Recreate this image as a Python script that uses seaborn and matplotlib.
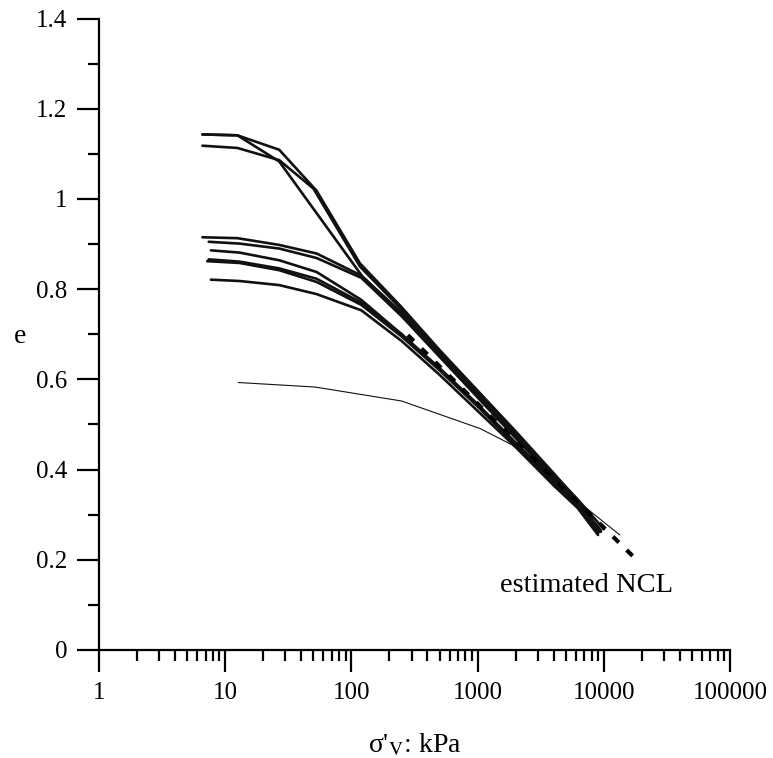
import numpy as np
import pandas as pd
import matplotlib
matplotlib.use("Agg")
import matplotlib.pyplot as plt
import seaborn as sns
from matplotlib.ticker import FixedLocator, NullFormatter

sns.set_theme(style="ticks")
plt.rcParams['font.family'] = ['Liberation Serif', 'DejaVu Serif']
plt.rcParams['mathtext.fontset'] = 'stix'

# ---- data: compression curves (vertical effective stress kPa, void ratio e)
stress_A = [6.6, 12.5, 26.8, 53, 117, 250, 500, 1000, 2000, 4000, 6200, 9500]
e_A = [1.143, 1.141, 1.109, 1.018, 0.857, 0.760, 0.665, 0.575, 0.485, 0.392, 0.332, 0.262]

stress_B = [6.6, 12.5, 26.8, 123, 250, 500, 1000, 2000, 4000, 6200, 9000]
e_B = [1.143, 1.141, 1.083, 0.827, 0.748, 0.657, 0.566, 0.476, 0.386, 0.326, 0.258]

stress_C = [6.6, 12.5, 26.8, 50, 117, 250, 500, 1000, 2000, 4000, 6200, 10000]
e_C = [1.118, 1.113, 1.086, 1.023, 0.850, 0.755, 0.660, 0.570, 0.480, 0.390, 0.334, 0.268]

stress_L1 = [6.6, 12.5, 26.8, 53, 120, 250, 500, 1000, 2000, 4000, 6200, 9000]
e_L1 = [0.915, 0.913, 0.898, 0.879, 0.830, 0.745, 0.655, 0.565, 0.475, 0.385, 0.330, 0.270]

stress_L2 = [7.4, 13, 26.8, 53, 120, 250, 500, 1000, 2000, 4000, 6200, 9500]
e_L2 = [0.905, 0.901, 0.890, 0.869, 0.825, 0.740, 0.650, 0.560, 0.470, 0.380, 0.325, 0.265]

stress_L3 = [7.7, 13, 26.8, 53, 120, 250, 500, 1000, 2000, 4000, 6200, 9000]
e_L3 = [0.886, 0.881, 0.864, 0.838, 0.776, 0.700, 0.625, 0.545, 0.460, 0.375, 0.320, 0.260]

stress_L4 = [7.2, 13, 26.8, 53, 120, 250, 500, 1000, 2000, 4000, 6200, 8800]
e_L4 = [0.862, 0.858, 0.842, 0.816, 0.765, 0.695, 0.620, 0.540, 0.455, 0.370, 0.318, 0.265]

stress_L5 = [7.4, 13, 26.8, 53, 120, 250, 500, 1000, 2000, 4000, 6200, 9200]
e_L5 = [0.866, 0.861, 0.846, 0.823, 0.770, 0.700, 0.622, 0.543, 0.458, 0.372, 0.320, 0.262]

stress_L6 = [7.7, 13, 26.8, 53, 120, 250, 500, 1000, 2000, 4000, 6200, 9000]
e_L6 = [0.821, 0.818, 0.809, 0.789, 0.753, 0.685, 0.610, 0.530, 0.450, 0.365, 0.315, 0.255]

stress_thin = [12.7, 51.5, 250, 1045, 1900, 4000, 6200, 13400]
e_thin = [0.593, 0.583, 0.552, 0.491, 0.454, 0.375, 0.330, 0.255]

stress_ncl = [280, 17000]
e_ncl = [0.698, 0.208]
ncl_label = "estimated NCL"

x_ticks = [1, 10, 100, 1000, 10000, 100000]
x_ticklabels = ["1", "10", "100", "1000", "10000", "100000"]
y_ticks = [0, 0.2, 0.4, 0.6, 0.8, 1.0, 1.2, 1.4]
y_ticklabels = ["0", "0.2", "0.4", "0.6", "0.8", "1", "1.2", "1.4"]

curves = {
    "A": (stress_A, e_A), "B": (stress_B, e_B), "C": (stress_C, e_C),
    "L1": (stress_L1, e_L1), "L2": (stress_L2, e_L2), "L3": (stress_L3, e_L3),
    "L4": (stress_L4, e_L4), "L5": (stress_L5, e_L5), "L6": (stress_L6, e_L6),
}
rows = []
for name, (s, e) in curves.items():
    for si, ei in zip(s, e):
        rows.append({"sigma": si, "e": ei, "test": name})
df = pd.DataFrame(rows)
df_thin = pd.DataFrame({"sigma": stress_thin, "e": e_thin, "test": "thin"})
df_ncl = pd.DataFrame({"sigma": stress_ncl, "e": e_ncl})

fig = plt.figure(figsize=(7.73, 7.58), dpi=100)
ax = fig.add_axes([99 / 773, 108 / 758, 631 / 773, 631.5 / 758])

sns.lineplot(data=df, x="sigma", y="e", units="test", estimator=None, sort=False,
             color="#111111", lw=1.9, ax=ax)
sns.lineplot(data=df_thin, x="sigma", y="e", estimator=None, sort=False,
             color="#111111", lw=0.8, ax=ax)
sns.lineplot(data=df_ncl, x="sigma", y="e", estimator=None, sort=False,
             color="black", lw=3.0, ax=ax, dashes=False)
ax.lines[-1].set_linestyle((0, (2.0, 2.6)))

ax.set_xscale("log")
ax.set_xlim(1, 100000)
ax.set_ylim(0, 1.4)

ax.xaxis.set_major_locator(FixedLocator(x_ticks))
ax.set_xticklabels(x_ticklabels)
minors = [m * 10 ** k for k in range(0, 5) for m in range(2, 10)]
ax.xaxis.set_minor_locator(FixedLocator(minors))
ax.xaxis.set_minor_formatter(NullFormatter())
ax.yaxis.set_major_locator(FixedLocator(y_ticks))
ax.set_yticklabels(y_ticklabels)
ax.yaxis.set_minor_locator(FixedLocator([0.1, 0.3, 0.5, 0.7, 0.9, 1.1, 1.3]))

for sp in ["top", "right"]:
    ax.spines[sp].set_visible(False)
for sp in ["left", "bottom"]:
    ax.spines[sp].set_linewidth(1.6)
    ax.spines[sp].set_color("black")

ax.tick_params(axis="both", which="major", direction="out", length=16, width=1.6,
               color="black", labelsize=18, labelcolor="black", pad=7)
ax.tick_params(axis="both", which="minor", direction="out", length=8, width=1.6,
               color="black")
ax.grid(False)

ax.set_xlabel(r"σ'$_{\mathrm{V}}$: kPa", fontsize=20, color="black")
ax.xaxis.set_label_coords(0.5, -0.150)
ax.xaxis.label.set_va("center")
ax.set_ylabel("e", fontsize=20, rotation=0, color="black")
ax.yaxis.set_label_coords(-0.125, 0.496)
ax.yaxis.label.set_va("center")
ax.yaxis.label.set_ha("center")

ax.text(500 / 773, (758 - 585) / 758, ncl_label, transform=fig.transFigure,
        fontsize=20.5, ha="left", va="center", color="black")

fig.savefig("out.png", dpi=100, facecolor="white")
